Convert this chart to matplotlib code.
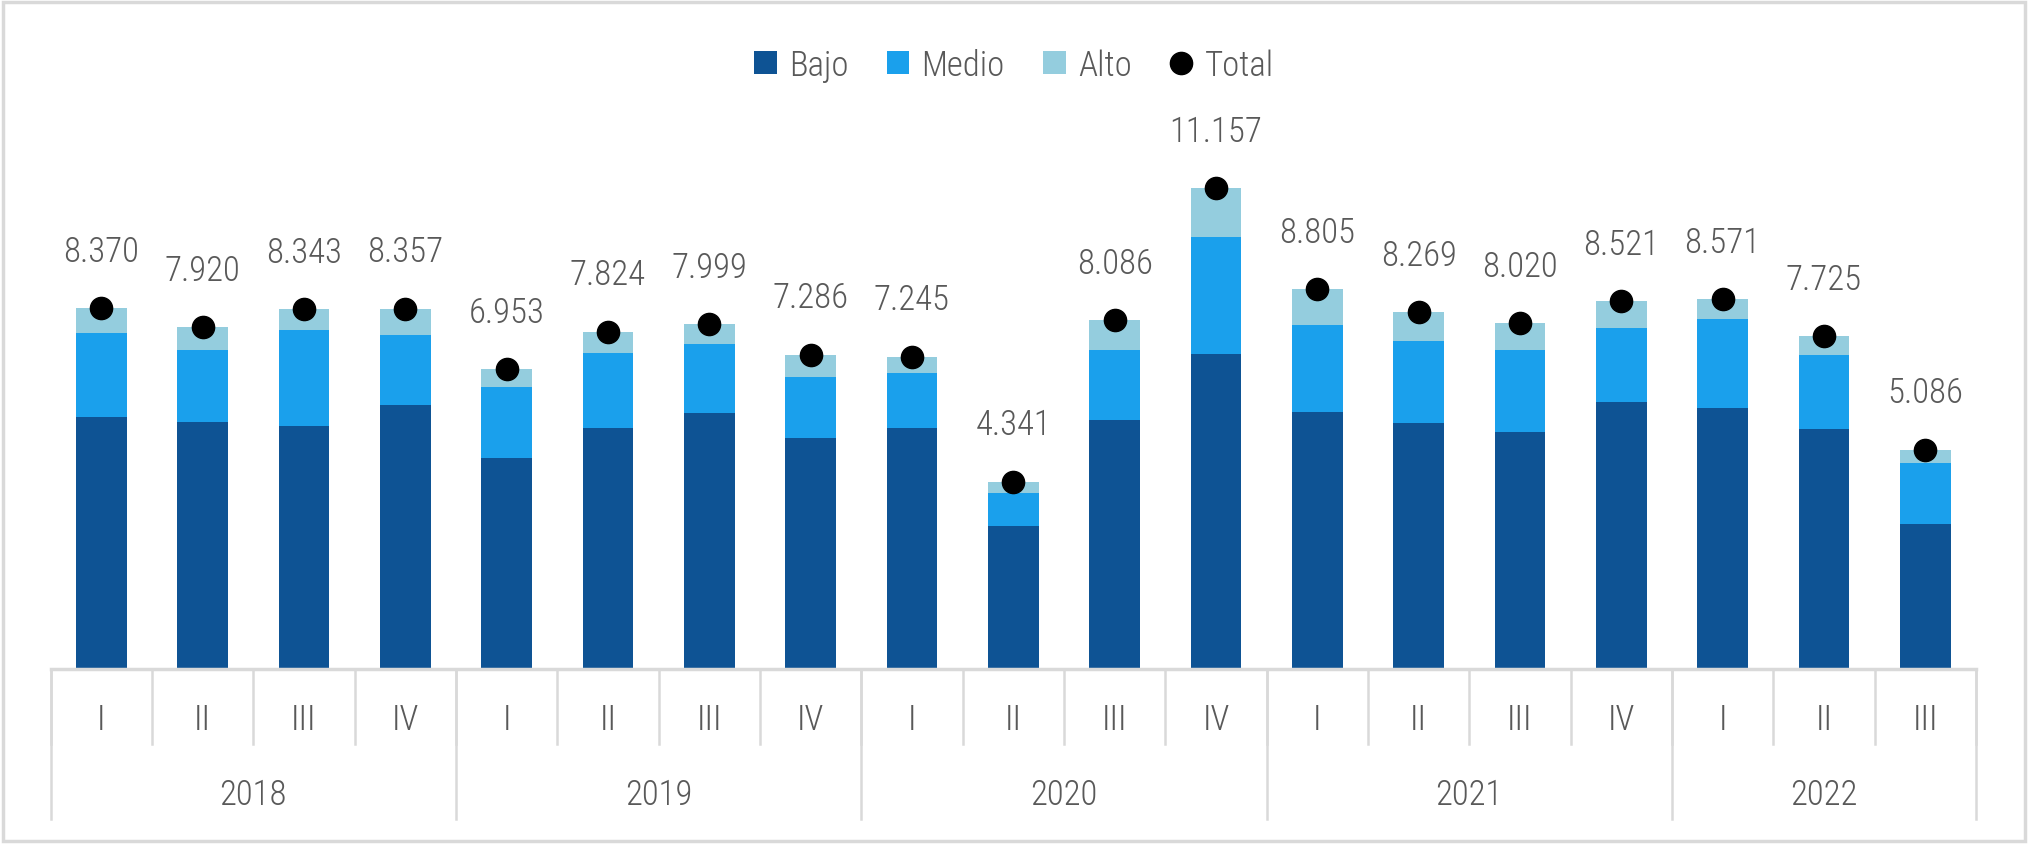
import numpy as np
import matplotlib.pyplot as plt
from matplotlib import font_manager
from matplotlib.patches import Rectangle
import matplotlib.transforms as mtransforms

# pick a narrow family if one is installed
names = {f.name for f in font_manager.fontManager.ttflist}
family = 'DejaVu Sans'
for cand in ['Liberation Sans Narrow', 'Roboto Condensed', 'Open Sans Condensed',
             'DejaVu Sans Condensed', 'Roboto']:
    if cand in names:
        family = cand
        break
plt.rcParams['font.family'] = [family, 'DejaVu Sans']
plt.rcParams['font.weight'] = 'light'

# Data
quarters = ['I', 'II', 'III', 'IV', 'I', 'II', 'III', 'IV', 'I', 'II', 'III', 'IV',
            'I', 'II', 'III', 'IV', 'I', 'II', 'III']
years = ['2018', '2019', '2020', '2021', '2022']
year_counts = [4, 4, 4, 4, 3]
total = [8370, 7920, 8343, 8357, 6953, 7824, 7999, 7286, 7245, 4341, 8086, 11157,
         8805, 8269, 8020, 8521, 8571, 7725, 5086]
bajo = [5853, 5729, 5625, 6112, 4890, 5594, 5926, 5366, 5594, 3325, 5781, 7293,
        5967, 5698, 5490, 6195, 6050, 5573, 3367]
medio = [1948, 1658, 2227, 1637, 1658, 1740, 1606, 1409, 1264, 767, 1626, 2714,
         2020, 1896, 1896, 1720, 2072, 1699, 1419]
alto = [t - b - m for t, b, m in zip(total, bajo, medio)]

c_bajo = '#0E5394'
c_medio = '#1AA0EC'
c_alto = '#94CDDE'
grey_txt = '#595959'
grey_line = '#D9D9D9'

fs = 25 if 'Narrow' in family or 'Condensed' in family else 22

fig = plt.figure(figsize=(20.28, 8.45), dpi=100)
ax = fig.add_axes([50.5 / 2028, 175 / 845, (1976 - 50.5) / 2028, 570 / 845])

x = np.arange(len(total))
w = 0.5
b1 = ax.bar(x, bajo, w, color=c_bajo, label='Bajo')
b2 = ax.bar(x, medio, w, bottom=bajo, color=c_medio, label='Medio')
b3 = ax.bar(x, alto, w, bottom=np.array(bajo) + np.array(medio), color=c_alto, label='Alto')
pt, = ax.plot(x, total, 'o', color='black', markersize=16, label='Total', zorder=5)

for xi, t in zip(x, total):
    ax.annotate(f"{t:,}".replace(',', '.'), (xi, t), xytext=(0, 29),
                textcoords='offset points', ha='center', va='bottom',
                fontsize=fs, color=grey_txt)

ax.set_xlim(-0.5, len(total) - 0.5)
ax.set_ylim(0, 13216)
for s in ['top', 'right', 'left']:
    ax.spines[s].set_visible(False)
ax.spines['bottom'].set_color(grey_line)
ax.spines['bottom'].set_linewidth(2.5)
ax.set_yticks([])
ax.set_xticks([])

# two-level category axis
trans = mtransforms.blended_transform_factory(ax.transData, ax.transAxes)
for i in range(len(total) + 1):
    ax.plot([i - 0.5, i - 0.5], [0, -0.1316], transform=trans, color=grey_line,
            lw=1.8, clip_on=False)
for i, q in enumerate(quarters):
    ax.text(i, -0.0877, q, transform=trans, ha='center', va='center',
            fontsize=fs, color=grey_txt)
start = 0
for yr, n in zip(years, year_counts):
    ax.plot([start - 0.5, start - 0.5], [0, -0.263], transform=trans,
            color=grey_line, lw=1.8, clip_on=False)
    ax.text(start + (n - 1) / 2, -0.219, yr, transform=trans, ha='center',
            va='center', fontsize=fs, color=grey_txt)
    start += n
ax.plot([start - 0.5, start - 0.5], [0, -0.263], transform=trans,
        color=grey_line, lw=1.8, clip_on=False)

leg = fig.legend(handles=[b1, b2, b3, pt], loc='center', bbox_to_anchor=(0.5, 0.922),
                 ncol=4, frameon=False, fontsize=fs, handlelength=0.65,
                 handleheight=0.65, handletextpad=0.35, columnspacing=1.1)
for t in leg.get_texts():
    t.set_color(grey_txt)

# outer border
fig.patches.append(Rectangle((0.0015, 0.003), 0.997, 0.994, transform=fig.transFigure,
                             fill=False, edgecolor=grey_line, lw=2.5))

fig.savefig('out.png', dpi=100)
